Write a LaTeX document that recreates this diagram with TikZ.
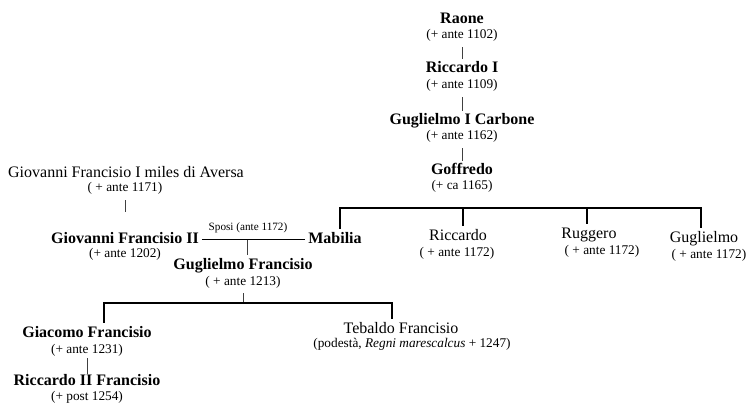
\documentclass[tikz,border=0pt]{standalone}
\usepackage{fontspec}
\setmainfont{Liberation Serif}

\begin{document}
\begin{tikzpicture}[x=1pt,y=-1pt,
    pname/.style={font=\fontsize{16}{18}\selectfont\bfseries, anchor=base, inner sep=3pt, text height=11pt, text depth=4pt},
    pplain/.style={pname, font=\fontsize{16}{18}\selectfont},
    pdate/.style={font=\fontsize{13.3}{15}\selectfont, anchor=base, inner sep=3pt, text height=9.5pt, text depth=5pt},
    thinline/.style={black!75, line width=0.8pt},
    barline/.style={black, line width=1.8pt}]
                \useasboundingbox (0,0) rectangle (751,403);

                % Raone line
                \node[pname] (raone) at (462,23.5) {Raone};
                \node[pdate] (raoneD) at (462,39) {(+ ante 1102)};
                \node[pname] (riccI) at (462,73) {Riccardo I};
                \node[pdate] (riccID) at (462,89) {(+ ante 1109)};
                \node[pname] (carbone) at (462,125) {Guglielmo I Carbone};
                \node[pdate] (carboneD) at (462,140) {(+ ante 1162)};
                \node[pname] (goffredo) at (462,175) {Goffredo};
                \node[pdate] (goffredoD) at (462,190) {(+ ca 1165)};

                \draw[thinline] (raoneD.south) -- (riccI.north);
                \draw[thinline] (riccID.south) -- (carbone.north);
                \draw[thinline] (carboneD.south) -- (goffredo.north);

                % children of Goffredo
                \node[pname] (mabilia) at (335,243) {Mabilia};
                \node[pplain] (riccardo) at (458,240) {Riccardo};
                \node[pdate] (riccardoD) at (457,256) {( + ante 1172)};
                \node[pplain] (ruggero) at (589,238) {Ruggero};
                \node[pdate] (ruggeroD) at (602,254) {( + ante 1172)};
                \node[pplain] (guglielmo) at (704,242) {Guglielmo};
                \node[pdate] (guglielmoD) at (709,258) {( + ante 1172)};

                \coordinate (gl) at (340,208);
                \coordinate (gr) at (701,208);
                \coordinate (tricc) at (463,208);
                \coordinate (trugg) at (587,208);
                \draw[barline] (gl |- mabilia.north) -- (gl) -- (gr) -- (gr |- guglielmo.north);
                \draw[barline] (tricc) -- (tricc |- riccardo.north);
                \draw[barline] (trugg) -- (trugg |- ruggero.north);

                % Francisio line
                \node[pplain] (giovI) at (126,178) {Giovanni Francisio I miles di Aversa};
                \node[pdate] (giovID) at (125,192) {( + ante 1171)};
                \node[pname] (giovII) at (125,243) {Giovanni Francisio II};
                \node[pdate] (giovIID) at (125,257) {(+ ante 1202)};

                \draw[thinline, shorten >=17pt] (giovID.south) -- (giovII.north);

                % marriage
                \draw[barline, line width=1.5pt] (giovII.east) -- (mabilia.west);
                \node[font=\fontsize{11.2}{13}\selectfont, anchor=base] (sposi) at (248,230) {Sposi (ante 1172)};
                \coordinate (wed) at (247,239.5);

                \node[pname] (gfranc) at (243,269) {Guglielmo Francisio};
                \node[pdate] (gfrancD) at (243,285) {( + ante 1213)};
                \draw[thinline] (wed) -- (wed |- gfranc.north);

                % children of Guglielmo Francisio
                \node[pname] (giacomo) at (87,337) {Giacomo Francisio};
                \node[pdate] (giacomoD) at (87,353) {(+ ante 1231)};
                \node[pname] (riccII) at (87,385) {Riccardo II Francisio};
                \node[pdate] (riccIID) at (87,400) {(+ post 1254)};
                \node[pplain] (tebaldo) at (401,333) {Tebaldo Francisio};
                \node[pdate] (tebaldoD) at (412,347) {(podestà, \textit{Regni marescalcus} + 1247)};

                \coordinate (fl) at (104,303);
                \coordinate (fr) at (392,303);
                \draw[thinline] (gfrancD.south) -- (gfrancD.south |- fl);
                \draw[barline] (fl |- giacomo.north) -- (fl) -- (fr) -- (fr |- tebaldo.north);
                \draw[thinline, shorten <=-3pt, shorten >=-3pt] (giacomoD.south) -- (riccII.north);
\end{tikzpicture}
\end{document}
